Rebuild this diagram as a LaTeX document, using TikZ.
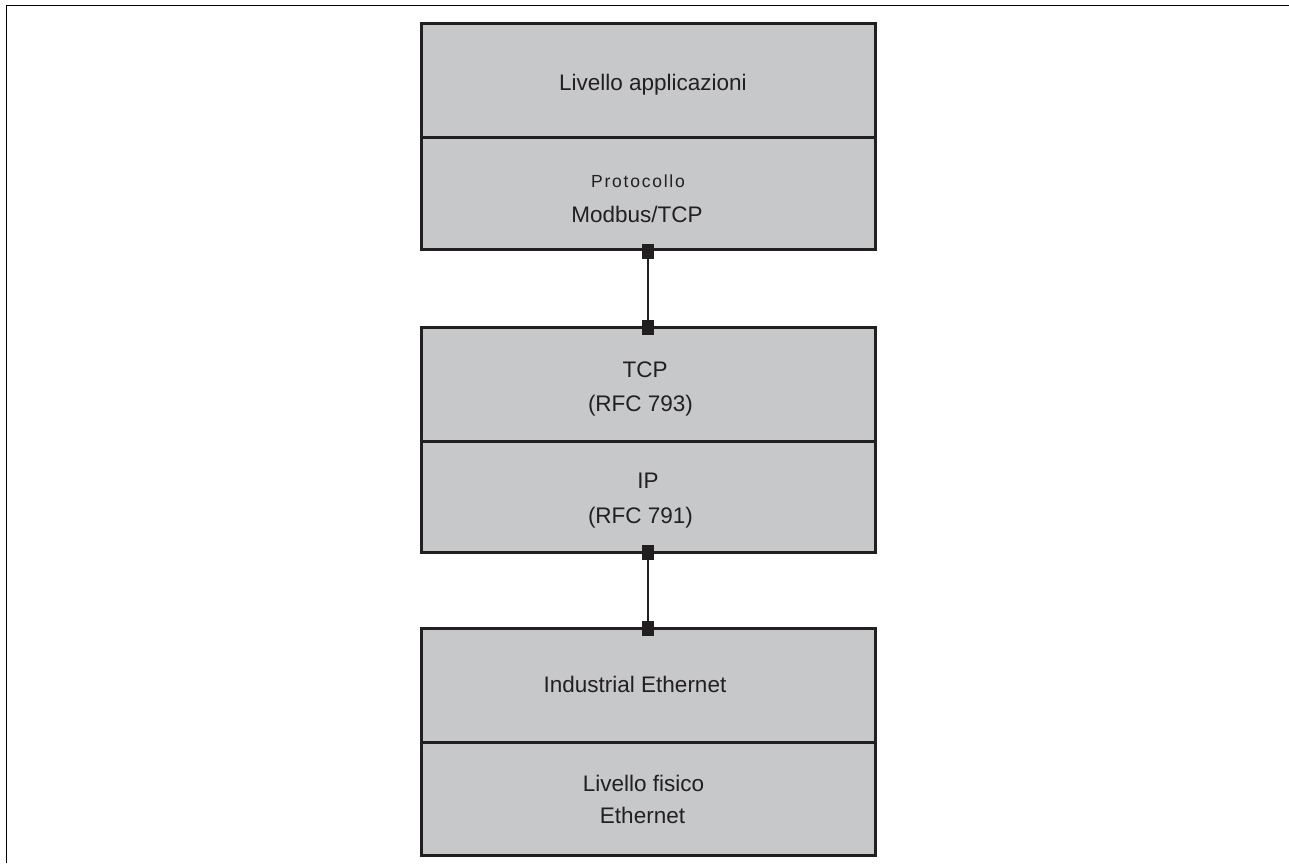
\documentclass[tikz,border=0pt]{standalone}
\usepackage{fontspec}
\setmainfont{Liberation Sans}
\definecolor{layerfill}{HTML}{C7C8CA}
\definecolor{ink}{HTML}{231F20}
\begin{document}
\begin{tikzpicture}[x=1pt,y=-1pt,
  layer/.style={draw=ink, fill=layerfill, line width=3pt, minimum width=454pt,
    anchor=north west, inner sep=0pt, outer sep=0pt},
  lbl/.style={anchor=base, text=ink, inner sep=0pt, font=\fontsize{22.5}{27}\selectfont},
  small/.style={anchor=base, text=ink, inner sep=0pt,
    font=\fontsize{17.5}{21}\selectfont\addfontfeature{LetterSpace=10}},
  pad/.style={fill=ink, minimum width=12pt, minimum height=15pt, inner sep=0pt, outer sep=0pt},
  conn/.style={draw=ink, line width=2pt},
  frame/.style={draw=black, line width=1.5pt}]
\useasboundingbox (0,0) rectangle (1289,863);
% frame
\coordinate (fTL) at (6.5,5.5);
\coordinate (fTR) at (1289,5.5);
\coordinate (fBL) at (6.5,863);
\draw[frame] (fTR) -- (fTL) -- (fBL);
% layers
\node[layer, minimum height=112pt] (proto) at (421,137) {};
\node[layer, minimum height=114pt] (app) at (421,23) {};
\node[layer, minimum height=111pt] (ip) at (421,441) {};
\node[layer, minimum height=114pt] (tcp) at (421,327) {};
\node[layer, minimum height=113pt] (phy) at (421,742) {};
\node[layer, minimum height=114pt] (ie) at (421,628) {};
% texts
\node[lbl] (tApp) at (653,90) {Livello applicazioni};
\node[small] (tProto) at (638,187) {Protocollo};
\node[lbl] (tModbus) at (637,222) {Modbus/TCP};
\node[lbl] (tTcp) at (645,377) {TCP};
\node[lbl] (tRfc793) at (640.5,411) {(RFC 793)};
\node[lbl] (tIp) at (648,488) {IP};
\node[lbl] (tRfc791) at (640.5,523) {(RFC 791)};
\node[lbl] (tIe) at (635,692) {Industrial Ethernet};
\node[lbl] (tPhy) at (643.5,791) {Livello fisico};
\node[lbl] (tEth) at (642.5,823) {Ethernet};
% connectors
\node[pad] (p1) at (648,251) {};
\node[pad] (p2) at (648,327) {};
\node[pad] (p3) at (648,552) {};
\node[pad] (p4) at (648,628) {};
\draw[conn] (p1) -- (p2);
\draw[conn] (p3) -- (p4);
\end{tikzpicture}
\end{document}
